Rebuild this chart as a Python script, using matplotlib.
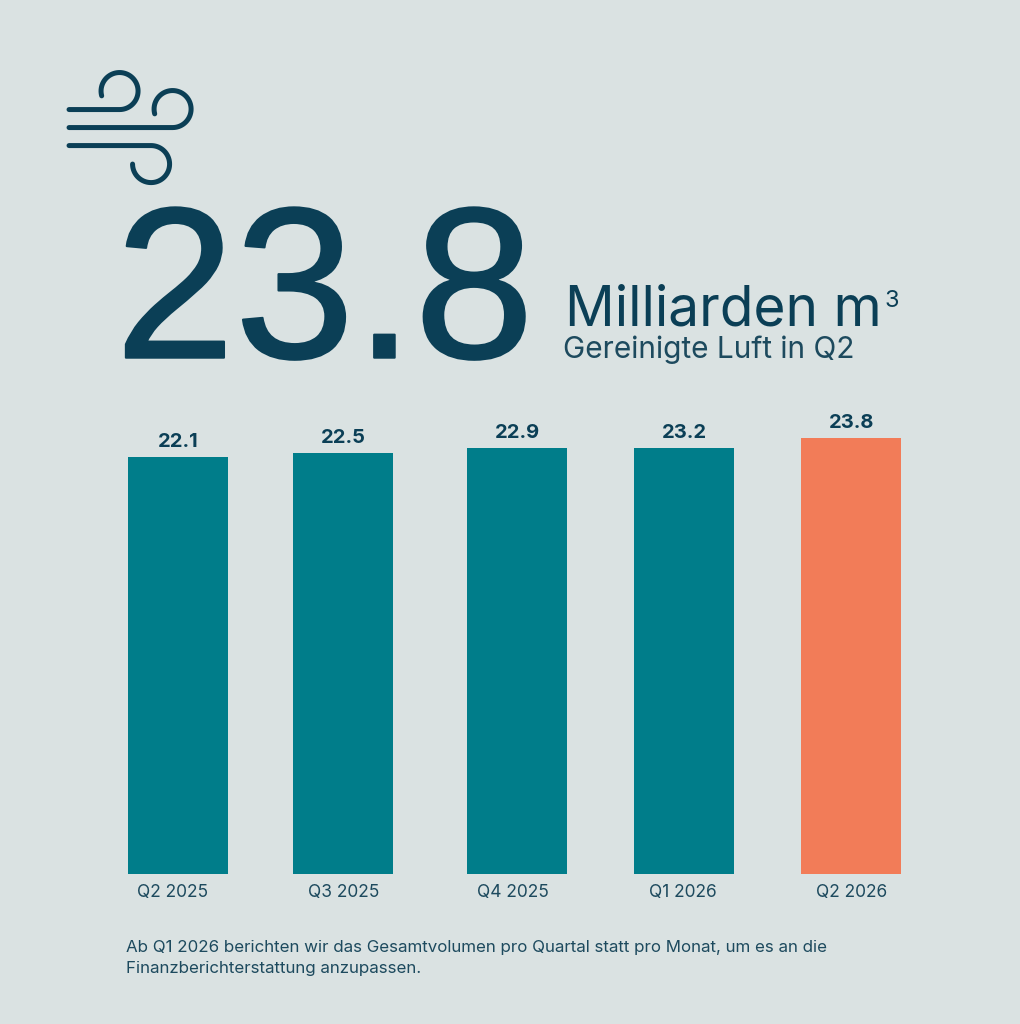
import numpy as np
import matplotlib
matplotlib.use("Agg")
import matplotlib.pyplot as plt
import matplotlib.patheffects as pe

# Data
quarters = ["Q2 2025", "Q3 2025", "Q4 2025", "Q1 2026", "Q2 2026"]
value_labels = ["22.1", "22.5", "22.9", "23.2", "23.8"]
# bar heights as drawn in the picture (Q4 2025 and Q1 2026 are equally tall there)
bar_heights = [22.76, 22.98, 23.25, 23.25, 23.8]

BG = "#DAE2E2"
NAVY = "#0B3F56"
TEXT = "#1D4A5E"
TEAL = "#007D8A"
ORANGE = "#F27C58"
colors = [TEAL, TEAL, TEAL, TEAL, ORANGE]

W, H = 1020, 1024
BASE = 874  # pixel row of the bar baseline
PX_PER_UNIT = 436 / 23.8

plt.rcParams["font.family"] = ["Inter", "DejaVu Sans"]

fig = plt.figure(figsize=((W + 0.5) / 100, (H + 0.5) / 100), dpi=100, facecolor=BG)

# Bars
ax = fig.add_axes([0, (H - BASE) / H, 1, 460 / H])
ax.set_facecolor("none")
centers = [178, 343, 517, 684, 851]
tick_x = [172, 344, 513, 683, 851]
ax.bar(centers, bar_heights, width=100, color=colors)
ax.set_xlim(0, W)
ax.set_ylim(0, 460 / PX_PER_UNIT)
ax.set_yticks([])
ax.set_xticks(tick_x, quarters, fontsize=12.5, color=TEXT)
ax.tick_params(axis="x", length=0, pad=7)
for s in ax.spines.values():
    s.set_visible(False)
for x, h, lab in zip(centers, bar_heights, value_labels):
    ax.annotate(lab, (x, h), xytext=(0, 4.5), textcoords="offset points", ha="center", va="bottom",
                fontsize=14.5, fontweight="bold", color=NAVY)

# Overlay in pixel coordinates for headline and icon
ov = fig.add_axes([0, 0, 1, 1])
ov.set_xlim(0, W)
ov.set_ylim(H, 0)
ov.axis("off")
ov.patch.set_alpha(0)

big = ov.text(115, 358, "23.8", fontsize=155, family="Liberation Sans", color=NAVY, ha="left", va="baseline")
big.set_path_effects([pe.withStroke(linewidth=1.5, foreground=NAVY)])
ov.text(565, 325, "Milliarden m", fontsize=39.6, color=NAVY, ha="left", va="baseline")
ov.text(884, 307, "3", fontsize=17, color=NAVY, ha="left", va="baseline")
ov.text(563, 358, "Gereinigte Luft in Q2", fontsize=21.5, color=TEXT, ha="left", va="baseline")
ov.text(126, 952, "Ab Q1 2026 berichten wir das Gesamtvolumen pro Quartal statt pro Monat, um es an die",
        fontsize=12.2, color=TEXT, ha="left", va="baseline")
ov.text(126, 973, "Finanzberichterstattung anzupassen.", fontsize=12.2, color=TEXT, ha="left", va="baseline")


# Wind icon: a straight stroke running into a curl
def curl(x0, y_line, cx, cy, r, a_start, a_end):
    a = np.radians(np.linspace(a_start, a_end, 60))
    xs = np.r_[x0, cx + r * np.cos(a)]
    ys = np.r_[y_line, cy + r * np.sin(a)]
    ov.plot(xs, ys, color=NAVY, lw=3.6, solid_capstyle="round", solid_joinstyle="round")


curl(69, 110, 119.5, 91.5, 18.5, 90, -195)
curl(69, 128, 172.5, 109.5, 18.5, 90, -195)
curl(69, 146, 151, 164.5, 18.5, -90, 180)

fig.savefig("out.png", dpi=100, facecolor=BG)
